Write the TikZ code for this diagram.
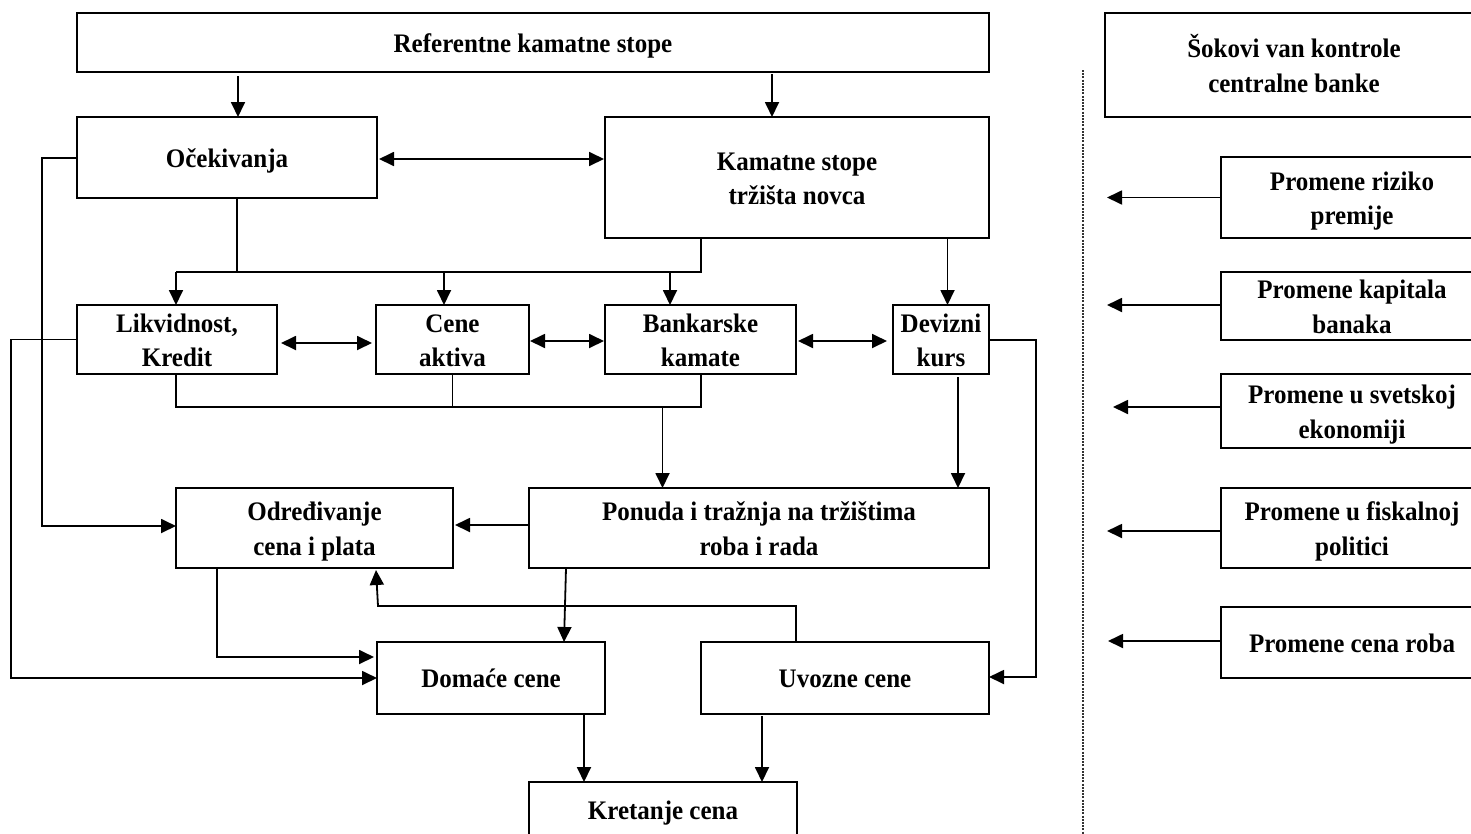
\documentclass[tikz,border=0pt]{standalone}
\usepackage{fontspec}
\usepackage{graphicx}
\setmainfont{Liberation Serif}
\usetikzlibrary{arrows.meta,calc}
% slightly tall lettering, one or more centred lines
\newcommand\vs[1]{\scalebox{1}[1.07]{\begin{tabular}{@{}c@{}}#1\end{tabular}}}
% boxed node from its corners (name, x1, y1, x2, y2, text); the text sits a little low
\newcommand\bx[6]{\node[box, minimum width={#4-#2}, minimum height={#5-#3}]
  (#1) at ({(#2+#4)/2},{(#3+#5)/2}) {};
  \node[lbl] (#1t) at ($(#1)+(0,3)$) {\vs{#6}};}
\begin{document}
\begin{tikzpicture}[x=1pt,y=-1pt,
  box/.style={draw, line width=2.4pt, inner sep=0pt, outer sep=0pt},
  lbl/.style={inner sep=0pt, font=\bfseries\fontsize{25}{32.3}\selectfont},
  link/.style={line width=1.8pt},
  arr/.style={link, -{Triangle[length=15pt,width=14pt]}},
  darr/.style={link, {Triangle[length=15pt,width=14pt]}-{Triangle[length=15pt,width=14pt]}},
  sep/.style={line width=2pt, black!80, dash pattern=on 2pt off 1.2pt},
]
\useasboundingbox (0,0) rectangle (1471,833);
\clip (0,0) rectangle (1471,833);

% ---------- transmission mechanism ----------
\bx{top}{77}{13}{989}{72}{Referentne kamatne stope}
\bx{ocek}{77}{117}{377}{198}{Očekivanja}
\bx{kam}{605}{117}{989}{238}{Kamatne stope\\tržišta novca}

\bx{likv}{77}{305}{277}{374}{Likvidnost,\\Kredit}
\bx{cene}{376}{305}{529}{374}{Cene\\aktiva}
\bx{bank}{605}{305}{796}{374}{Bankarske\\kamate}
\bx{dev}{893}{305}{989}{374}{Devizni\\kurs}

\bx{odr}{176}{488}{453}{568}{Određivanje\\cena i plata}
\bx{pon}{529}{488}{989}{568}{Ponuda i tražnja na tržištima\\roba i rada}

\bx{dom}{377}{642}{605}{714}{Domaće cene}
\bx{uvo}{701}{642}{989}{714}{Uvozne cene}
\bx{kret}{529}{782}{797}{838}{Kretanje cena}

% ---------- shocks outside the central bank ----------
\bx{sok}{1105}{13}{1483}{117}{Šokovi van kontrole\\centralne banke}
\bx{r1}{1221}{157}{1483}{238}{Promene riziko\\premije}
\bx{r2}{1221}{272}{1483}{340}{Promene kapitala\\banaka}
\bx{r3}{1221}{374}{1483}{448}{Promene u svetskoj\\ekonomiji}
\bx{r4}{1221}{488}{1483}{568}{Promene u fiskalnoj\\politici}
\bx{r5}{1221}{607}{1483}{678}{Promene cena roba}

\coordinate (sepA) at (1083,70);
\coordinate (sepB) at (1083,840);
\draw[sep] (sepA) -- (sepB);

% ---------- connectors ----------
% policy rate to expectations and money market
\draw[arr] ($(ocek.north)+(11,-41)$) -- ($(ocek.north)+(11,0)$);
\draw[arr] ($(kam.north)+(-25,-43)$) -- ($(kam.north)+(-25,0)$);
\draw[darr] ($(ocek.east)+(2,1.5)$) -- ($(kam.west)+(-1,-18.5)$);

% expectations straight to price setting
\draw[arr] ($(ocek.west)+(0,0.5)$) -| ($(odr.west)+(-134,-2)$) -- ($(odr.west)+(0,-2)$);

% fan-out to the four channels
\draw[link] ($(ocek.south)+(10,0)$) -- ($(ocek.south)+(10,74)$);
\draw[link] ($(likv.north)+(-1,-33)$) -- ($(kam.south)+(-96,34)$) -- ($(kam.south)+(-96,0)$);
\draw[arr] ($(likv.north)+(-1,-33)$) -- ($(likv.north)+(-1,0)$);
\draw[arr] ($(cene.north)+(-8.5,-33)$) -- ($(cene.north)+(-8.5,0)$);
\draw[arr] ($(bank.north)+(-30.5,-33)$) -- ($(bank.north)+(-30.5,0)$);
\draw[arr] ($(dev.north)+(6.5,-67)$) -- ($(dev.north)+(6.5,0)$);

% links between the channels
\draw[darr] ($(likv.east)+(4,3.5)$) -- ($(cene.west)+(-4,3.5)$);
\draw[darr] ($(cene.east)+(1,1.5)$) -- ($(bank.west)+(-1,1.5)$);
\draw[darr] ($(bank.east)+(2,1.5)$) -- ($(dev.west)+(-6,1.5)$);

% liquidity straight to domestic prices
\draw[arr] (likv.west) -| ($(dom.west)+(-366,0)$) -- (dom.west);

% channels join into goods and labour markets
\draw[link] ($(likv.south)+(-1,0)$) -- ($(likv.south)+(-1,33)$) -- ($(bank.south)+(0.5,33)$) -- ($(bank.south)+(0.5,0)$);
\draw[link] (cene.south) -- ($(cene.south)+(0,33)$);
\draw[arr] ($(pon.north)+(-96.5,-81)$) -- ($(pon.north)+(-96.5,0)$);
\draw[arr] ($(dev.south)+(17,3)$) -- ($(pon.north)+(199,0)$);

% exchange rate to import prices
\draw[arr] ($(dev.east)+(0,0.5)$) -| ($(uvo.east)+(47,-1)$) -- ($(uvo.east)+(0,-1)$);

% markets, price setting and prices
\draw[arr] ($(pon.west)+(0,-3)$) -- ($(odr.east)+(2,-3)$);
\draw[arr] ($(pon.south)+(-193,0)$) -- ($(dom.north)+(73,0)$);
\draw[arr] ($(uvo.north)+(-49,0)$) -- ($(uvo.north)+(-49,-36)$) -- ($(odr.south)+(63.5,38)$) -- ($(odr.south)+(61.5,2)$);
\draw[arr] ($(odr.south)+(-97.5,0)$) -- ($(odr.south)+(-97.5,89)$) -- ($(dom.west)+(-3,-21)$);

% overall price movement
\draw[arr] ($(dom.south)+(93,0)$) -- ($(kret.north)+(-79,0)$);
\draw[arr] ($(uvo.south)+(-83,2)$) -- ($(kret.north)+(99,0)$);

% shocks point towards the mechanism
\draw[arr] (r1.west) -- ++(-114,0);
\draw[arr] ($(r2.west)+(0,-1)$) -- ++(-114,0);
\draw[arr] ($(r3.west)+(0,-4)$) -- ++(-108,0);
\draw[arr] ($(r4.west)+(0,3)$) -- ++(-114,0);
\draw[arr] ($(r5.west)+(0,-1.5)$) -- ++(-113,0);
\end{tikzpicture}
\end{document}
